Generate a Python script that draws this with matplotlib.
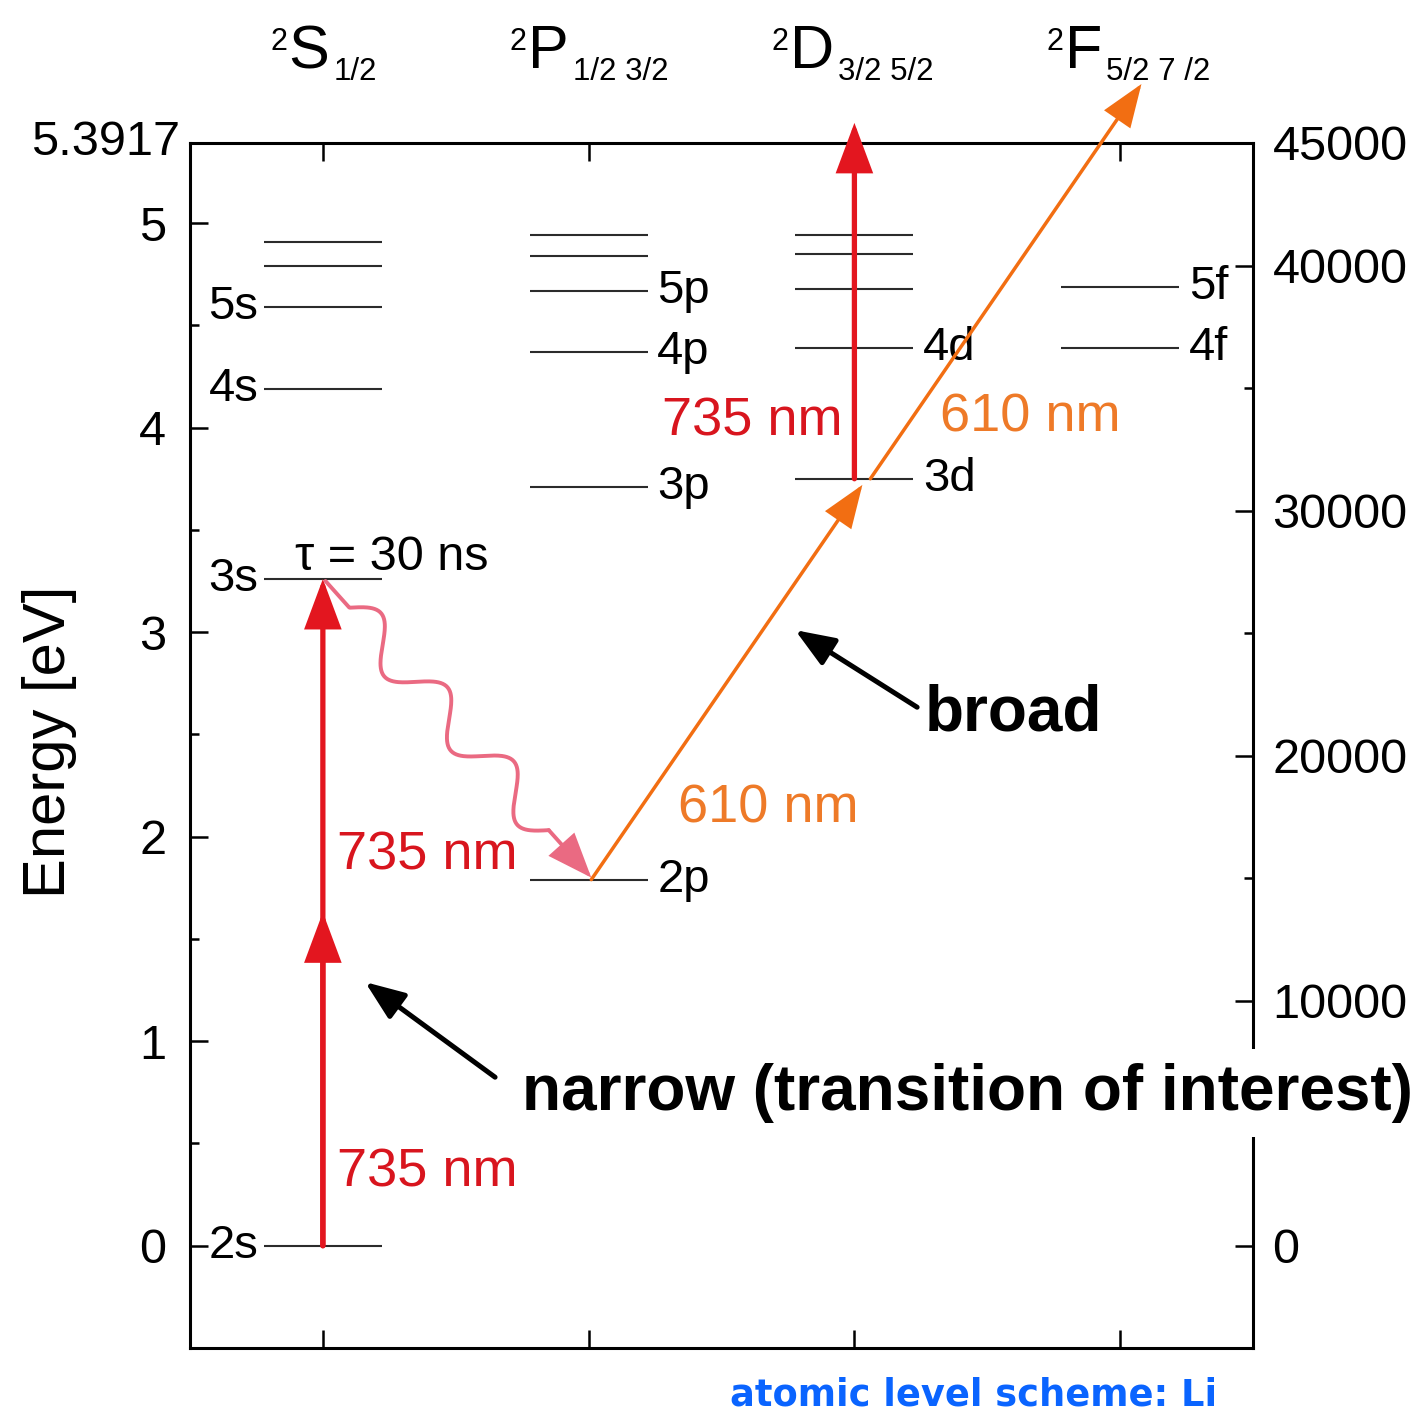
import numpy as np
import matplotlib

matplotlib.use("Agg")
import matplotlib.pyplot as plt
from matplotlib.ticker import FixedLocator, NullFormatter

plt.rcParams["font.family"] = ["Liberation Sans", "DejaVu Sans"]

# term columns (x = 0.5, 1.5, 2.5, 3.5)
TERM_LETTERS = ["S", "P", "D", "F"]
TERM_J = ["1/2", "1/2 3/2", "3/2 5/2", "5/2 7 /2"]

# level energies [eV] and names per column
S_ENERGY = [0.0, 3.26, 4.19, 4.59, 4.79, 4.91]
S_NAMES = ["2s", "3s", "4s", "5s", "", ""]
P_ENERGY = [1.79, 3.71, 4.37, 4.67, 4.84, 4.94]
P_NAMES = ["2p", "3p", "4p", "5p", "", ""]
D_ENERGY = [3.75, 4.39, 4.68, 4.85, 4.94]
D_NAMES = ["3d", "4d", "", "", ""]
F_ENERGY = [4.39, 4.69]
F_NAMES = ["4f", "5f"]

IONISATION_EV = 5.3917
EV_BOTTOM = -0.5
EV_TICKS = [0, 1, 2, 3, 4, 5]
EV_MINOR = [0.5, 1.5, 2.5, 3.5, 4.5]
CM_TICKS = [0, 10000, 20000, 30000, 40000, 45000]
CM_MINOR = [5000, 15000, 25000, 35000]
CM_TOP = 45000

# transitions: (x0, E0, x1, E1)
PUMP = (0.5, S_ENERGY[0], 0.5, S_ENERGY[1])
PUMP_MID = (0.5, S_ENERGY[0], 0.5, S_ENERGY[1] / 2)
IONISE = (2.5, D_ENERGY[0], 2.5, 5.49)
PROBE_LOW = (1.51, P_ENERGY[0], 2.53, 3.72)
PROBE_HIGH = (2.56, D_ENERGY[0], 3.58, 5.68)
DECAY = (0.51, S_ENERGY[1] - 0.01, 1.51, P_ENERGY[0] + 0.01)

RED = "#e3161f"
RED_TEXT = "#d8151e"
ORANGE = "#f26e12"
ORANGE_TEXT = "#ee7a28"
PINK = "#ea6a82"
BLUE = "#0a64ff"

# wavelength labels: text, x, y, colour
WAVE_LABELS = [
    ("735 nm", 0.553, 1.91, RED_TEXT),
    ("735 nm", 0.553, 0.356, RED_TEXT),
    ("735 nm", 1.776, 4.03, RED_TEXT),
    ("610 nm", 2.822, 4.05, ORANGE_TEXT),
    ("610 nm", 1.836, 2.14, ORANGE_TEXT),
]

HALF_WIDTH = 0.222
HEADER_X = [0.37, 1.272, 2.258, 3.292]


def arrow(ax, seg, color, lw, head_len, head_w, zorder=4):
    x0, y0, x1, y1 = seg
    ax.annotate(
        "",
        xy=(x1, y1),
        xytext=(x0, y0),
        annotation_clip=False,
        arrowprops=dict(
            arrowstyle=f"-|>,head_length={head_len},head_width={head_w}",
            color=color,
            lw=lw,
            shrinkA=0,
            shrinkB=0,
            mutation_scale=1,
            joinstyle="miter",
        ),
        zorder=zorder,
    )


def wavy_points(ax, seg, periods=3, lead=0.09, span=0.75, amp=0.05):
    x0, y0, x1, y1 = seg
    p0 = ax.transData.transform((x0, y0))
    p1 = ax.transData.transform((x1, y1))
    vec = p1 - p0
    length = np.hypot(*vec)
    u = vec / length
    n = np.array([-u[1], u[0]])
    s = np.linspace(0, lead + span, 500)
    off = np.where(s > lead, amp * length * np.sin(2 * np.pi * periods * (s - lead) / span), 0.0)
    pts = p0 + np.outer(s * length, u) + np.outer(off, n)
    return ax.transData.inverted().transform(pts)


fig = plt.figure(figsize=(14.22, 14.13), dpi=100)
ax = fig.add_axes([0.1336, 0.046, 0.7476, 0.8528])
ax2 = ax.twinx()
ax.set_zorder(ax2.get_zorder() + 1)
ax.patch.set_visible(False)

ax.set_xlim(0, 4)
ax.set_ylim(EV_BOTTOM, IONISATION_EV)
frac0 = -EV_BOTTOM / (IONISATION_EV - EV_BOTTOM)
ax2.set_ylim(-CM_TOP * frac0 / (1 - frac0), CM_TOP)

for side in ["left", "right", "top", "bottom"]:
    ax.spines[side].set_linewidth(2.2)
    ax2.spines[side].set_visible(False)

ax.xaxis.set_major_locator(FixedLocator([0.5, 1.5, 2.5, 3.5]))
ax.xaxis.set_major_formatter(NullFormatter())
ax.tick_params(axis="x", which="both", direction="in", top=True, bottom=True,
               length=13, width=1.8, labelbottom=False)
ax.yaxis.set_major_locator(FixedLocator(EV_TICKS))
ax.yaxis.set_minor_locator(FixedLocator(EV_MINOR))
ax.set_yticklabels([str(v) for v in EV_TICKS])
ax.tick_params(axis="y", which="major", direction="in", length=13, width=1.8,
               labelsize=35, pad=17, right=False)
ax.tick_params(axis="y", which="minor", direction="in", length=6.5, width=1.8, right=False)

ax2.yaxis.set_major_locator(FixedLocator(CM_TICKS))
ax2.yaxis.set_minor_locator(FixedLocator(CM_MINOR))
ax2.set_yticklabels([str(v) for v in CM_TICKS])
ax2.tick_params(axis="y", which="major", direction="in", length=13, width=1.8,
                labelsize=35, pad=14)
ax2.tick_params(axis="y", which="minor", direction="in", length=6.5, width=1.8)

ax.annotate("5.3917", xy=(0, IONISATION_EV), xycoords=("axes fraction", "data"),
            xytext=(-7, 0), textcoords="offset points", ha="right", va="center",
            fontsize=35, annotation_clip=False)

fig.text(50 / 1422, 1 - 742 / 1413, "Energy [eV]", rotation=90, ha="center",
         va="center", fontsize=43)

# energy levels
columns = [(S_ENERGY, S_NAMES), (P_ENERGY, P_NAMES), (D_ENERGY, D_NAMES), (F_ENERGY, F_NAMES)]
for col, (energies, names) in enumerate(columns):
    xc = col + 0.5
    for e, name in zip(energies, names):
        ax.plot([xc - HALF_WIDTH, xc + HALF_WIDTH], [e, e], color="#2b2b2b", lw=1.5,
                solid_capstyle="butt", zorder=2)
        if not name:
            continue
        if col == 0:
            ax.annotate(name, xy=(xc - HALF_WIDTH, e), xytext=(-4, 0),
                        textcoords="offset points", ha="right", va="center", fontsize=34)
        else:
            ax.annotate(name, xy=(xc + HALF_WIDTH, e), xytext=(7, 0),
                        textcoords="offset points", ha="left", va="center", fontsize=34)

# term symbols above the frame
header_y = 1.062
for letter, jval, hx in zip(TERM_LETTERS, TERM_J, HEADER_X):
    main = ax.text(hx, header_y, letter, transform=ax.get_xaxis_transform(),
                   fontsize=44, ha="left", va="baseline")
    ax.annotate("2", xy=(hx, header_y), xycoords=ax.get_xaxis_transform(),
                xytext=(-1, 13.5), textcoords="offset points", fontsize=22,
                ha="right", va="baseline", annotation_clip=False)
    ax.annotate(jval, xy=(1, header_y), xycoords=(main, "axes fraction"),
                xytext=(3, -8.6), textcoords="offset points", fontsize=22.5,
                ha="left", va="baseline", annotation_clip=False)

# transitions
arrow(ax, PUMP, RED, 3.8, 29, 10.8)
arrow(ax, PUMP_MID, RED, 3.8, 29, 10.8)
arrow(ax, IONISE, RED, 3.8, 29, 10.8)
arrow(ax, PROBE_LOW, ORANGE, 2.5, 26, 9.7, zorder=5)
arrow(ax, PROBE_HIGH, ORANGE, 2.5, 26, 9.7, zorder=5)

wave = wavy_points(ax, DECAY)
ax.plot(wave[:, 0], wave[:, 1], color=PINK, lw=2.8, zorder=4, solid_capstyle="round")
arrow(ax, (wave[-1, 0], wave[-1, 1], DECAY[2], DECAY[3]), PINK, 2.8, 27, 10.5)

ax.text(0.395, 3.365, "τ = 30 ns", fontsize=35, ha="left", va="center")
for text, x, y, color in WAVE_LABELS:
    ax.text(x, y, text, fontsize=39, color=color, ha="left", va="center")

# comments on the two transitions
ax.annotate("", xy=(2.277, 3.010), xytext=(2.736, 2.633), annotation_clip=False,
            arrowprops=dict(arrowstyle="-|>,head_length=24,head_width=9.4", color="black",
                            lw=3.6, shrinkA=0, shrinkB=0, mutation_scale=1))
ax.text(2.766, 2.604, "broad", fontsize=46, fontweight="bold", ha="left", va="center")

ax.annotate("", xy=(0.659, 1.289), xytext=(1.148, 0.824), annotation_clip=False,
            arrowprops=dict(arrowstyle="-|>,head_length=24,head_width=9.4", color="black",
                            lw=3.6, shrinkA=0, shrinkB=0, mutation_scale=1))
ax.text(1.249, 0.746, "narrow (transition of interest)", fontsize=46, fontweight="bold",
        ha="left", va="center", zorder=10, clip_on=False,
        bbox=dict(boxstyle="square,pad=0.22", fc="white", ec="none"))

fig.text(730 / 1422, 1 - 1395 / 1413, "atomic level scheme: Li", color=BLUE,
         fontsize=26.5, fontweight="bold", family="DejaVu Sans", ha="left", va="center")

fig.savefig("out.png", dpi=100)
